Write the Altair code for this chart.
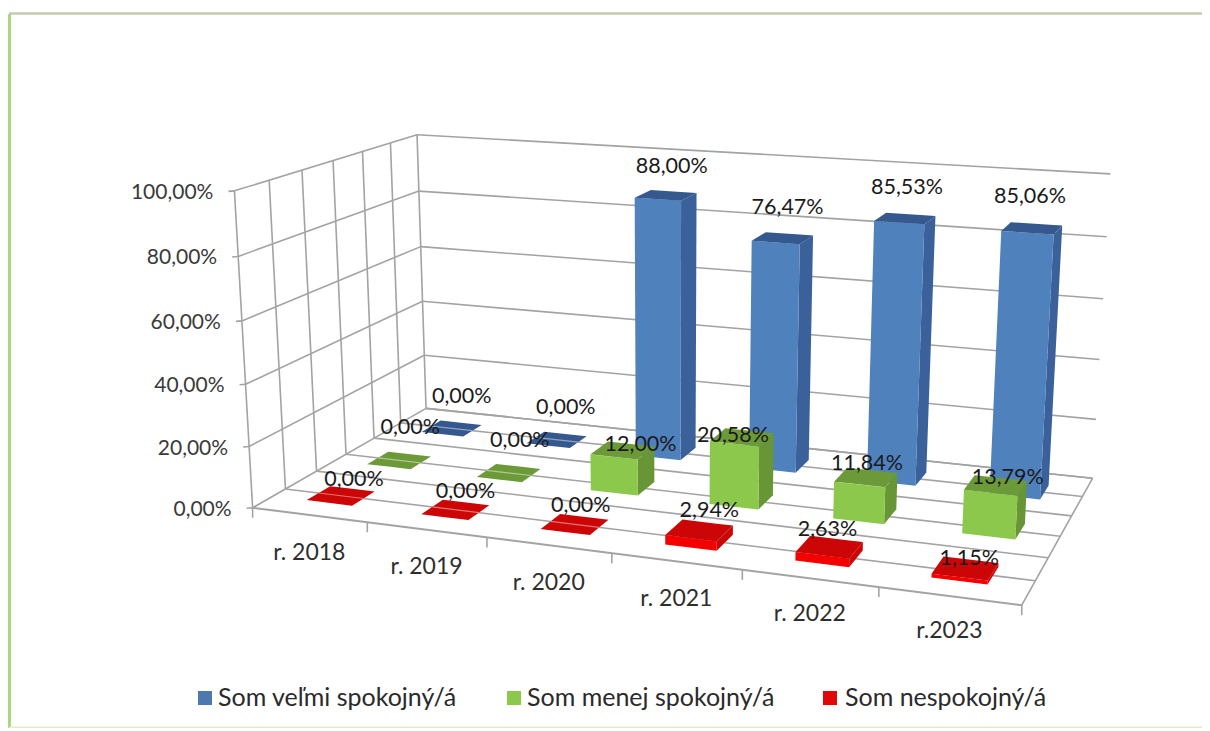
import altair as alt
import numpy as np
import pandas as pd

categories = ["r. 2018", "r. 2019", "r. 2020", "r. 2021", "r. 2022", "r.2023"]
series_names = ["Som veľmi spokojný/á", "Som menej spokojný/á", "Som nespokojný/á"]
blue_values = [0.0, 0.0, 88.0, 76.47, 85.53, 85.06]
green_values = [0.0, 0.0, 12.0, 20.58, 11.84, 13.79]
red_values = [0.0, 0.0, 0.0, 2.94, 2.63, 1.15]
y_ticks = [0, 20, 40, 60, 80, 100]

# label nudges relative to the projected bar-top centre
blue_dx = [10, 9, 6, 5, 2, -2]
blue_dy = [-31, -32, -28, -30, -30, -31]
green_dx = [11, 11, 18, -9, 1, 12]
green_dy = [-32, -32, -5, -1, -13, -7]
red_dx = [13, 10, 6, 10, -2, 4]
red_dy = [-16, -18, -18, -19, -17, -9]

# camera calibration of the 3D box: (category, depth, height) -> picture position
calib = [
    (0, 0, 0, 253, 508), (0, 0, 1, 235, 190), (0, 1, 0, 425, 408), (0, 1, 1, 418, 134),
    (1, 1, 0, 1093, 478), (1, 1, 1, 1110, 173), (1, 0, 0, 1022, 605),
    (1 / 6, 0, 0, 367, 522), (2 / 6, 0, 0, 487, 537), (3 / 6, 0, 0, 612, 553),
    (4 / 6, 0, 0, 743, 570), (5 / 6, 0, 0, 878, 587),
    (0, 0, .2, 249, 447), (0, 0, .4, 245, 386), (0, 0, .6, 241, 321), (0, 0, .8, 238, 257),
    (0, 1, .2, 424, 356), (0, 1, .4, 422, 302), (0, 1, .6, 421, 247), (0, 1, .8, 419, 191),
    (1, 1, .2, 1096, 420), (1, 1, .4, 1100, 360), (1, 1, .6, 1103, 299), (1, 1, .8, 1106, 237),
    (0, 1 / 6, 0, 285, 488), (0, 2 / 6, 0, 317, 470), (0, 3 / 6, 0, 347, 455),
    (0, 4 / 6, 0, 375, 438), (0, 5 / 6, 0, 400, 422),
]
A, b = [], []
for u, v, w, px, py in calib:
    A.append([u, v, w, 1, 0, 0, 0, 0, -px * u, -px * v, -px * w]); b.append(px)
    A.append([0, 0, 0, 0, u, v, w, 1, -py * u, -py * v, -py * w]); b.append(py)
m = np.linalg.lstsq(np.array(A, float), np.array(b, float), rcond=None)[0]
M = np.append(m, 1.0).reshape(3, 4)


def P(u, v, w):
    q = M @ np.array([u, v, w, 1.0])
    return float(q[0] / q[2]), float(q[1] / q[2])


BAR_W = 0.40 / 6
BAR_D = 0.125
GRID = "#a3a3a3"

lines = []


def seg(a, b, color=GRID, sw=1.6):
    lines.append(dict(id=len(lines), x=a[0], y=a[1], x2=b[0], y2=b[1], c=color, sw=sw))


for t in y_ticks:
    w = t / 100
    seg(P(0, 1, w), P(1, 1, w))
    seg(P(0, 0, w), P(0, 1, w))
    x0, y0 = P(0, 0, w)
    seg((x0 - 6, y0 + 0.5), (x0, y0))
for k in range(7):
    v = k / 6
    seg(P(0, v, 0), P(1, v, 0), sw=2 if k == 0 else 1.6)
    seg(P(0, v, 0), P(0, v, 1), sw=1.6)
    x0, y0 = P(k / 6, 0, 0)
    seg((x0, y0), (x0, y0 + 10))
seg(P(1, 0, 0), P(1, 1, 0))
lines_df = pd.DataFrame(lines)

polys = []
pid = [0]


def add_poly(pts, color):
    xs = sorted({p[0] for p in pts})
    n = len(pts)
    for x in xs:
        ys = []
        for i in range(n):
            a, b = pts[i], pts[(i + 1) % n]
            lo, hi = min(a[0], b[0]), max(a[0], b[0])
            if lo <= x <= hi:
                if a[0] == b[0]:
                    ys += [a[1], b[1]]
                else:
                    ys.append(a[1] + (b[1] - a[1]) * (x - a[0]) / (b[0] - a[0]))
        polys.append(dict(id=pid[0], x=x, y=min(ys), y2=max(ys), fill=color))
    pid[0] += 1


series = [
    (blue_values, 5 / 6, "#4f81bd", "#35588f", "#3a619a", blue_dx, blue_dy),
    (green_values, 3 / 6, "#8cc84b", "#6d9a38", "#689536", green_dx, green_dy),
    (red_values, 1 / 6, "#f40000", "#cc0606", "#cc0606", red_dx, red_dy),
]
labels = []
shine = []
for vals, vc, front, top, side, ldx, ldy in series:
    for i, val in enumerate(vals):
        uc = (i + 0.5) / 6
        u0, u1 = uc - BAR_W / 2, uc + BAR_W / 2
        v0, v1 = vc - BAR_D / 2, vc + BAR_D / 2
        w = val / 100
        if val > 0:
            add_poly([P(u1, v0, 0), P(u1, v1, 0), P(u1, v1, w), P(u1, v0, w)], side)
            add_poly([P(u0, v0, 0), P(u1, v0, 0), P(u1, v0, w), P(u0, v0, w)], front)
        add_poly([P(u0, v0, w), P(u1, v0, w), P(u1, v1, w), P(u0, v1, w)], top)
        if val == 0:
            a, c = P(u0, vc, 0), P(u1, vc, 0)
            shine.append(dict(x=a[0], y=a[1], x2=c[0], y2=c[1]))
        cx, cy = P(uc, vc, w)
        labels.append(dict(x=cx + ldx[i], y=cy + ldy[i], t=f"{val:.2f}%".replace(".", ",")))
polys_df = pd.DataFrame(polys)
labels_df = pd.DataFrame(labels)
shine_df = pd.DataFrame(shine)

axis_df = pd.DataFrame(
    [dict(x=P(0, 0, t / 100)[0] - 21, y=P(0, 0, t / 100)[1] + 2, t=f"{t},00%") for t in y_ticks]
)
cat_offsets = [38, 37, 38, 38, 36, 35]
cat_df = pd.DataFrame(
    [dict(x=P((i + .5) / 6, 0, 0)[0], y=P((i + .5) / 6, 0, 0)[1] + cat_offsets[i], t=c)
     for i, c in enumerate(categories)]
)
legend_df = pd.DataFrame(dict(
    x=[205, 514, 830], tx=[218, 527, 845], y=[698, 698, 698], t=series_names,
    c=["#4f78ad", "#8cc84b", "#e00808"],
))
frame_df = pd.DataFrame([
    dict(x=9.5, y=14, x2=9.5, y2=728, c="#a9d87f", sw=3),
    dict(x=9, y=13.5, x2=1202, y2=13.5, c="#c3cbb0", sw=2.5),
    dict(x=9, y=728, x2=1202, y2=728, c="#dfeec6", sw=3),
])

X = alt.X("x:Q", scale=alt.Scale(domain=[8, 1202]), axis=None)
Y = alt.Y("y:Q", scale=alt.Scale(domain=[728, 8]), axis=None, stack=False)

frame = alt.Chart(frame_df).mark_rule().encode(
    x=X, y=Y, x2="x2:Q", y2="y2:Q",
    color=alt.Color("c:N", scale=None),
    strokeWidth=alt.StrokeWidth("sw:Q", scale=None),
)
grid = alt.Chart(lines_df).mark_rule().encode(
    x=X, y=Y, x2="x2:Q", y2="y2:Q",
    detail="id:N",
    color=alt.Color("c:N", scale=None),
    strokeWidth=alt.StrokeWidth("sw:Q", scale=None),
)
bars = alt.Chart(polys_df).mark_area(interpolate="linear", line=False).encode(
    x=X, y=Y, y2="y2:Q", detail="id:N", color=alt.Color("fill:N", scale=None),
)
shines = alt.Chart(shine_df).mark_rule(color="#ffffff", opacity=0.45, strokeWidth=1.2).encode(
    x=X, y=Y, x2="x2:Q", y2="y2:Q",
)


def texts(df, size, color, align="center"):
    return alt.Chart(df).mark_text(
        font="Lato", fontSize=size, color=color, align=align, baseline="middle"
    ).encode(x=X, y=Y, text="t:N")


data_labels = texts(labels_df, 21.5, "#1a1a1a")
axis_labels = texts(axis_df, 21, "#3a3a3a", "right")
cat_labels = texts(cat_df, 23, "#2e2e2e")
legend_marks = alt.Chart(legend_df).mark_square(size=196, opacity=1).encode(
    x=X, y=Y, color=alt.Color("c:N", scale=None),
)
legend_text = alt.Chart(legend_df).mark_text(
    font="Lato", fontSize=25, color="#2a2a2a", align="left", baseline="middle"
).encode(x=alt.X("tx:Q", scale=alt.Scale(domain=[8, 1202]), axis=None), y=Y, text="t:N")

chart = alt.layer(
    frame, grid, bars, shines, axis_labels, cat_labels, data_labels, legend_marks, legend_text
).properties(
    width=1194, height=720, padding=0, autosize=alt.AutoSizeParams(type="none"),
    background="#ffffff",
).configure_view(stroke=None)

chart.save("out.html", embed_options={"renderer": "svg", "actions": False})
